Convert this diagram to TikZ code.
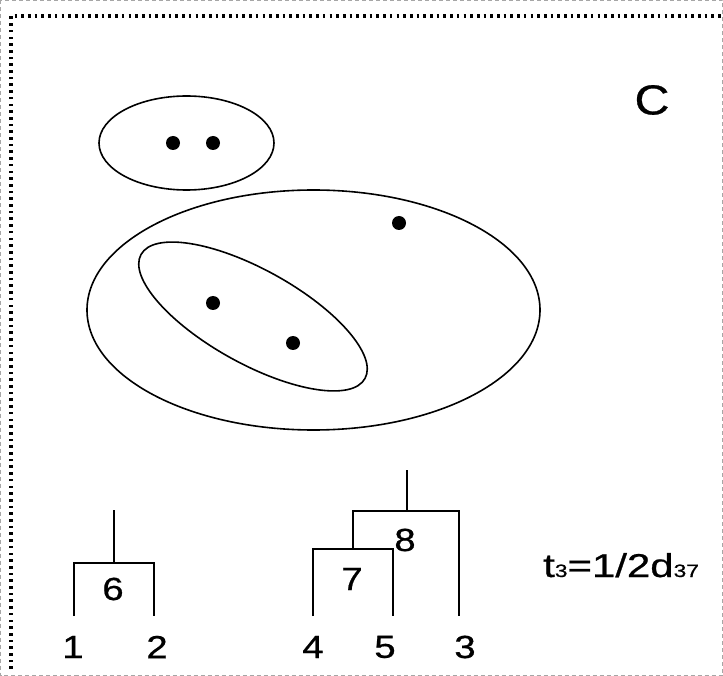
\documentclass[tikz,border=0pt]{standalone}
\usepackage{fontspec}
\setmainfont{Liberation Sans}
\begin{document}
\begin{tikzpicture}[x=1pt,y=-1pt,
  setline/.style={line width=1.6pt},
  treeline/.style={line width=2pt},
  pt/.style={circle,fill=black,inner sep=0pt,minimum size=14pt},
  digit/.style={inner sep=0pt,font=\fontsize{32}{32}\selectfont\addfontfeature{FakeBold=0.6}},
  framedot/.style={line width=3.2pt,dash pattern=on 2.6pt off 4.1pt},
  edgedash/.style={line width=1pt,gray!70,dash pattern=on 4pt off 3pt}]
\useasboundingbox (0,0) rectangle (723,676);
% outer page edge and dotted panel border
\draw[edgedash] (0.5,0.5) rectangle (722.5,675.5);
\coordinate (fbl) at (11,669);
\coordinate (ftl) at (11,16);
\coordinate (ftr) at (723,16);
\draw[framedot] (fbl) -- (ftl) -- (ftr);
% cluster ellipses
\draw[setline] (186.5,143) ellipse [x radius=87.5, y radius=47];
\draw[setline] (313.5,310) ellipse [x radius=226.5, y radius=120];
\draw[setline] (253,316.5) ellipse [x radius=128, y radius=47, rotate=-29];
% points
\node[pt] (p1) at (173,143) {};
\node[pt] (p2) at (213,143) {};
\node[pt] (p3) at (399,223) {};
\node[pt] (p4) at (213,303) {};
\node[pt] (p5) at (293,343) {};
% panel label
\node[inner sep=0pt,font=\fontsize{42}{42}\selectfont\addfontfeature{FakeBold=0.6}] (lab) at (652,100) {\scalebox{1.15}[1]{C}};
% first dendrogram
\coordinate (l1) at (74,616);
\coordinate (l2) at (154,616);
\coordinate (j6) at (114,563);
\coordinate (r6) at (114,510);
\draw[treeline] (l1) |- (j6) -| (l2);
\draw[treeline] (j6) -- (r6);
% second dendrogram
\coordinate (l4) at (313,616);
\coordinate (l5) at (393,616);
\coordinate (l3) at (459,616);
\coordinate (j7) at (353,549);
\coordinate (j8) at (407,511);
\coordinate (r8) at (407,470);
\draw[treeline] (l4) |- (j7) -| (l5);
\draw[treeline] (j7) |- (j8) -| (l3);
\draw[treeline] (j8) -- (r8);
% node numbers
\node[digit] (n6) at (113,589) {\scalebox{1.2}[1]{6}};
\node[digit] (n7) at (352,579) {\scalebox{1.2}[1]{7}};
\node[digit] (n8) at (405,540) {\scalebox{1.2}[1]{8}};
\node[digit] (n1) at (73,647) {\scalebox{1.2}[1]{1}};
\node[digit] (n2) at (157,647) {\scalebox{1.2}[1]{2}};
\node[digit] (n4) at (313,647) {\scalebox{1.2}[1]{4}};
\node[digit] (n5) at (385,647) {\scalebox{1.2}[1]{5}};
\node[digit] (n3) at (465,647) {\scalebox{1.2}[1]{3}};
% threshold
\node[inner sep=0pt,anchor=base west,font=\fontsize{33}{33}\selectfont\addfontfeature{FakeBold=0.6}] (thr) at (543,577)
  {\scalebox{1.27}[1]{t{\fontsize{18}{18}\selectfont 3}=1/2d{\fontsize{18}{18}\selectfont 37}}};
\end{tikzpicture}
\end{document}
